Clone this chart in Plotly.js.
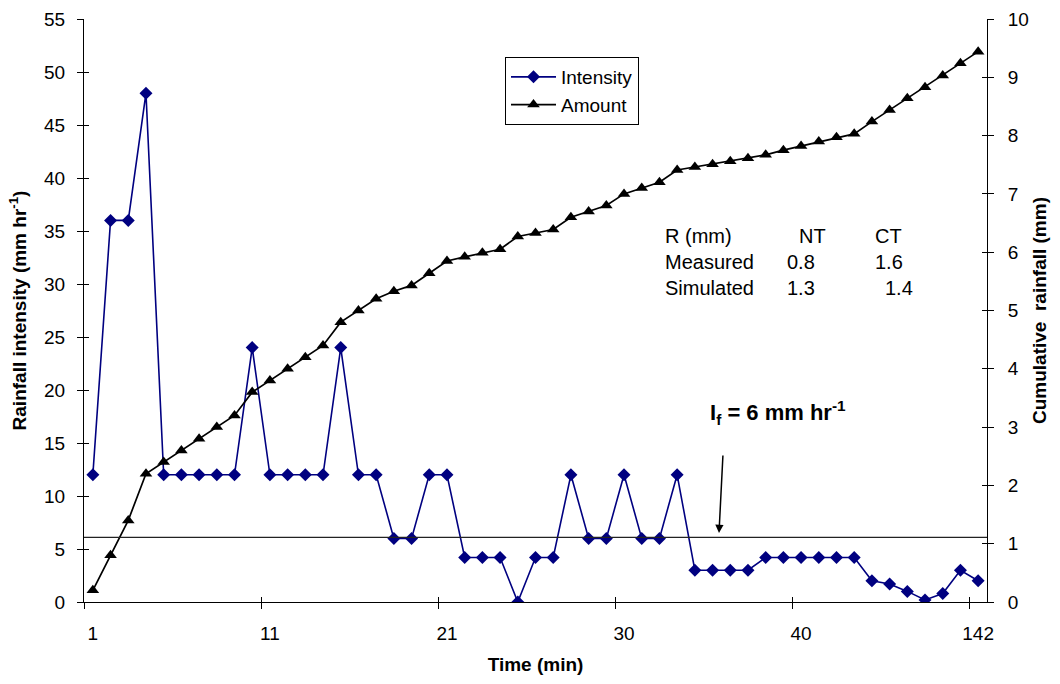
<!DOCTYPE html>
<html>
<head>
<meta charset="utf-8">
<script src="https://cdn.plot.ly/plotly-3.0.1.min.js"></script>
<style>html,body{margin:0;padding:0;background:#fff;}#chart{width:1060px;height:684px;}</style>
</head>
<body>
<div id="chart"></div>
<script>
// ---- data ----
const intensity = [12,36,36,48,12,12,12,12,12,24,
                   12,12,12,12,24,12,12,6,6,12,
                   12,4.2,4.2,4.2,0,4.2,4.2,12,6,6,
                   12,6,6,12,3,3,3,3,4.2,4.2,
                   4.2,4.2,4.2,4.2,2,1.7,1,0.2,0.8,3,2];
const amount = [0.2,0.8,1.4,2.2,2.4,2.6,2.8,3.0,3.2,3.6,
                3.8,4.0,4.2,4.4,4.8,5.0,5.2,5.33,5.43,5.64,
                5.85,5.92,5.99,6.05,6.27,6.33,6.39,6.6,6.7,6.8,
                7.0,7.1,7.2,7.41,7.46,7.51,7.56,7.61,7.67,7.75,
                7.82,7.9,7.97,8.03,8.24,8.44,8.64,8.83,9.03,9.24,9.44];
const tickCategory = [1,11,21,31,41,51];
const tickLabels = ['1','11','21','30','40','142'];
const thresholdValue = 6.1;
const tableRows = [['R (mm)','NT','CT'],['Measured','0.8','1.6'],['Simulated','1.3','1.4']];

const cat = intensity.map((_, i) => i + 1);
const nCat = cat.length;
const boundaryTicks = tickCategory.map(v => v - 0.5);

const FONT = 'Liberation Sans, Arial, Helvetica, sans-serif';
const xRange = [0.5, nCat + 0.5];

const traces = [
  {x: cat, y: intensity, name: 'Intensity', type: 'scatter', mode: 'lines+markers',
   line: {color: '#000080', width: 1.6},
   marker: {symbol: 'diamond', size: 10, color: '#000080'}},
  {x: cat, y: amount, name: 'Amount', type: 'scatter', mode: 'lines+markers', yaxis: 'y2',
   line: {color: '#000000', width: 1.7},
   marker: {symbol: 'triangle-up', size: 11, color: '#000000'}},
  {x: [], y: [], xaxis: 'x2', yaxis: 'y3', showlegend: false, hoverinfo: 'skip', type: 'scatter'},
  {x: [], y: [], xaxis: 'x3', yaxis: 'y4', showlegend: false, hoverinfo: 'skip', type: 'scatter'}
];

// plot area in pixels
const L = 84, R = 987, T = 19, B = 602;
const px = x => (x - L) / (R - L);
const py = y => (B - y) / (B - T);

const annotations = [];
const colX = [663, 785, 873];
const colXRow0 = [663, 797, 873];
const colXRow2 = [663, 785, 883];
const rowY = [236, 262, 288];
tableRows.forEach((row, r) => {
  row.forEach((txt, c) => {
    const xs = r === 0 ? colXRow0 : (r === 2 ? colXRow2 : colX);
    annotations.push({xref: 'paper', yref: 'paper', x: px(xs[c]), y: py(rowY[r]),
      xanchor: 'left', yanchor: 'middle', text: txt, showarrow: false,
      font: {family: FONT, size: 20, color: '#000'}});
  });
});
annotations.push({xref: 'paper', yref: 'paper', x: px(778), y: py(412), xanchor: 'center', yanchor: 'middle',
  text: '<b>I<sub>f</sub> = 6 mm hr<sup>-1</sup></b>', showarrow: false,
  font: {family: FONT, size: 22, color: '#000'}});
annotations.push({xref: 'paper', yref: 'paper', x: px(719), y: py(533), text: '',
  showarrow: true, ax: 4, ay: -79, arrowhead: 2, arrowsize: 1.1, arrowwidth: 1.5, arrowcolor: '#000'});

const baseY = {showgrid: false, zeroline: false, showline: true, linecolor: '#000', linewidth: 1,
  ticks: 'outside', ticklen: 6, tickcolor: '#000', tickwidth: 1,
  tickfont: {family: FONT, size: 19, color: '#000'}, tickmode: 'linear'};

const layout = {
  width: 1060, height: 684,
  margin: {l: L, r: 1060 - R, t: T, b: 684 - B, pad: 0},
  paper_bgcolor: '#fff', plot_bgcolor: '#fff',
  font: {family: FONT, color: '#000'},
  showlegend: true,
  legend: {x: px(505), y: py(57), xanchor: 'left', yanchor: 'top',
    bgcolor: '#fff', bordercolor: '#000', borderwidth: 1, itemwidth: 45,
    font: {family: FONT, size: 19, color: '#000'}, tracegroupgap: 0},
  xaxis: {range: xRange, tickmode: 'array', tickvals: tickCategory, ticktext: tickLabels,
    ticks: '', showgrid: false, zeroline: false, showline: true, linecolor: '#000', linewidth: 1,
    tickfont: {family: FONT, size: 19, color: '#000'}, ticklabelstandoff: 14,
    title: {text: '<b>Time (min)</b>', font: {family: FONT, size: 19, color: '#000'}, standoff: 14}},
  xaxis2: {overlaying: 'x', anchor: 'y', range: xRange, tickmode: 'array', tickvals: boundaryTicks,
    ticks: 'outside', ticklen: 6, tickcolor: '#000', showticklabels: false, showgrid: false,
    zeroline: false, showline: false},
  xaxis3: {overlaying: 'x', anchor: 'y', range: xRange, tickmode: 'array', tickvals: boundaryTicks,
    ticks: 'inside', ticklen: 5, tickcolor: '#000', showticklabels: false, showgrid: false,
    zeroline: false, showline: false},
  yaxis: Object.assign({}, baseY, {range: [0, 55], dtick: 5, tick0: 0, ticklabelstandoff: 8,
    title: {text: '<b>Rainfall intensity (mm hr<sup>-1</sup>)</b>', font: {family: FONT, size: 19, color: '#000'}, standoff: 12}}),
  yaxis2: Object.assign({}, baseY, {range: [0, 10], dtick: 1, tick0: 0, overlaying: 'y', side: 'right', anchor: 'x',
    ticklabelstandoff: 10,
    title: {text: '<b>Cumulative&nbsp; rainfall (mm)</b>', font: {family: FONT, size: 19, color: '#000'}, standoff: 4}}),
  yaxis3: {overlaying: 'y', anchor: 'x', side: 'left', range: [0, 55], tickmode: 'linear', dtick: 5, tick0: 0,
    ticks: 'inside', ticklen: 5, tickcolor: '#000', showticklabels: false, showgrid: false, zeroline: false, showline: false},
  yaxis4: {overlaying: 'y', anchor: 'x', side: 'right', range: [0, 10], tickmode: 'linear', dtick: 1, tick0: 0,
    ticks: 'inside', ticklen: 5, tickcolor: '#000', showticklabels: false, showgrid: false, zeroline: false, showline: false},
  shapes: [{type: 'line', xref: 'paper', x0: 0, x1: 1, yref: 'y', y0: thresholdValue, y1: thresholdValue,
    line: {color: '#222', width: 1.3}}],
  annotations: annotations
};

Plotly.newPlot('chart', traces, layout, {staticPlot: true, displayModeBar: false});
</script>
</body>
</html>
